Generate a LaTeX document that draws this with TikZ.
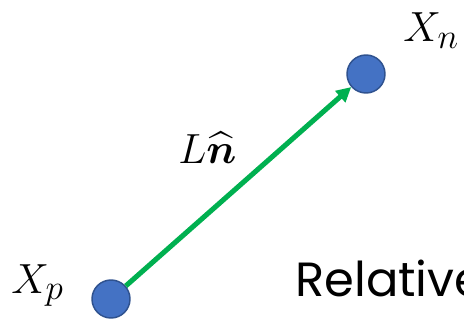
\documentclass[tikz,border=0pt]{standalone}
\usepackage{amsmath,amssymb,bm}
\usepackage{graphicx}
\usepackage{fontspec}
\newfontfamily\relfont{Poppins}
\usepackage{xcolor}
\usetikzlibrary{arrows.meta}

\definecolor{ptblue}{HTML}{4472C4}
\definecolor{ptedge}{HTML}{2F528F}
\definecolor{vecgreen}{HTML}{00B050}

\newcommand{\bigmath}[1]{\scalebox{1.27}{\fontsize{24.88}{25}\selectfont$#1$}}

\begin{document}
\begin{tikzpicture}[
  x=0.75pt, y=-0.75pt,
  pt/.style={circle, draw=ptedge, fill=ptblue, line width=1.1pt, inner sep=0pt, minimum size=28.5pt},
  lbl/.style={anchor=base west, inner sep=0pt},
  arr/.style={-{Triangle[length=11pt, width=11pt]}, line width=3.8pt, draw=vecgreen}
]
\useasboundingbox (0,0) rectangle (464,321);
\node[pt] (xp) at (111,299) {};
\node[pt] (xn) at (366,74) {};

\node[lbl] (lxp) at (11,293) {\bigmath{X_p}};
\node[lbl] (lxn) at (403,42) {\bigmath{X_n}};
\node[lbl] (lvec) at (178,163) {\bigmath{L\bm{\widehat{n}}}};

\node[anchor=base west, inner sep=0pt, font=\relfont\fontsize{36}{36}\selectfont] (rel) at (295,296) {Relative};

\draw[arr] (xp) -- (xn);
\end{tikzpicture}
\end{document}
